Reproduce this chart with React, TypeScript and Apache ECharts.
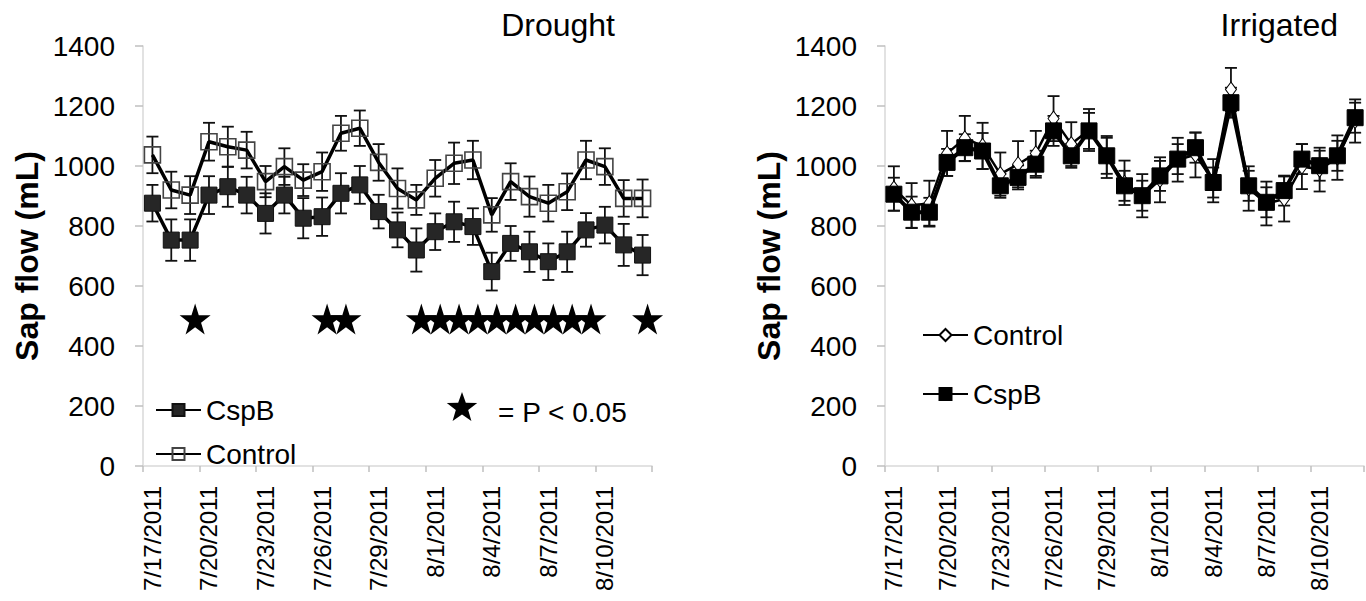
import React, { useEffect, useRef } from 'react';
import * as echarts from 'echarts';

const dates = [
  '7/17/2011', '7/18/2011', '7/19/2011', '7/20/2011', '7/21/2011', '7/22/2011', '7/23/2011',
  '7/24/2011', '7/25/2011', '7/26/2011', '7/27/2011', '7/28/2011', '7/29/2011', '7/30/2011',
  '7/31/2011', '8/1/2011', '8/2/2011', '8/3/2011', '8/4/2011', '8/5/2011', '8/6/2011',
  '8/7/2011', '8/8/2011', '8/9/2011', '8/10/2011', '8/11/2011', '8/12/2011',
];

const droughtCspB = [876, 753, 753, 903, 931, 903, 842, 903, 826, 831, 909, 937, 848, 787, 720, 781, 814, 798, 648, 742, 714, 681, 714, 787, 803, 737, 703];
const droughtCspBErr = [61, 69, 69, 63, 67, 61, 67, 61, 67, 64, 67, 63, 56, 58, 72, 61, 67, 61, 63, 58, 67, 61, 67, 56, 61, 70, 67];
const droughtControl = [1037, 920, 903, 1081, 1064, 1053, 948, 998, 953, 981, 1109, 1126, 1012, 925, 887, 959, 1009, 1020, 837, 948, 898, 876, 914, 1020, 998, 892, 892];
const droughtControlErr = [61, 61, 63, 63, 67, 61, 52, 61, 53, 64, 58, 59, 61, 67, 50, 61, 69, 64, 56, 61, 67, 61, 61, 64, 61, 61, 63];

const irrigatedControl = [925, 868, 876, 1042, 1092, 1067, 973, 1006, 1042, 1158, 1073, 1120, 1030, 944, 901, 954, 1021, 1037, 951, 1255, 925, 875, 890, 998, 988, 1028, 1150];
const irrigatedControlErr = [74, 75, 75, 75, 75, 77, 72, 77, 75, 75, 73, 70, 70, 74, 72, 75, 73, 75, 72, 72, 74, 73, 75, 75, 73, 74, 72];
const irrigatedCspB = [906, 846, 846, 1012, 1061, 1050, 934, 962, 1006, 1117, 1034, 1117, 1034, 934, 901, 967, 1023, 1061, 945, 1211, 934, 879, 918, 1023, 1001, 1034, 1161];
const irrigatedCspBErr = [55, 52, 48, 45, 45, 60, 40, 40, 45, 50, 40, 60, 60, 50, 50, 50, 50, 50, 50, 50, 50, 50, 50, 50, 50, 50, 50];

const significantDays = ['7/19/2011', '7/26/2011', '7/27/2011', '7/31/2011', '8/1/2011', '8/2/2011', '8/3/2011', '8/4/2011', '8/5/2011', '8/6/2011', '8/7/2011', '8/8/2011', '8/9/2011', '8/12/2011'];
const starLevel = 490;

const yTicks = { min: 0, max: 1400, interval: 200 };

const FONT = '"Liberation Sans", Arial, sans-serif';
const STAR_PATH = 'path://M50,0 L61.2,34.5 L97.6,34.5 L68.2,55.9 L79.4,90.5 L50,69.1 L20.6,90.5 L31.8,55.9 L2.4,34.5 L38.8,34.5 Z';

function starPoints(cx: number, cy: number, ro: number, ri: number) {
  const pts: number[][] = [];
  for (let k = 0; k < 10; k++) {
    const r = k % 2 === 0 ? ro : ri;
    const a = -Math.PI / 2 + (k * Math.PI) / 5;
    pts.push([cx + r * Math.cos(a), cy + r * Math.sin(a)]);
  }
  return pts;
}

function errorSeries(values: number[], errs: number[], axisIndex: number, z: number) {
  return {
    type: 'custom',
    xAxisIndex: axisIndex,
    yAxisIndex: axisIndex,
    silent: true,
    z,
    encode: { x: 0, y: 1 },
    data: values.map((v, i) => [i, v, errs[i]]),
    renderItem: (params: any, api: any) => {
      const i = api.value(0);
      const v = api.value(1);
      const e = api.value(2);
      const top = api.coord([i, v + e]);
      const bot = api.coord([i, v - e]);
      const w = 6;
      const style = { stroke: '#111', lineWidth: 1.8 };
      return {
        type: 'group',
        children: [
          { type: 'line', shape: { x1: top[0], y1: top[1], x2: bot[0], y2: bot[1] }, style },
          { type: 'line', shape: { x1: top[0] - w, y1: top[1], x2: top[0] + w, y2: top[1] }, style },
          { type: 'line', shape: { x1: bot[0] - w, y1: bot[1], x2: bot[0] + w, y2: bot[1] }, style },
        ],
      };
    },
  };
}

function xAxisDef(gridIndex: number) {
  return {
    type: 'category',
    gridIndex,
    data: dates,
    boundaryGap: true,
    axisLine: { show: true, lineStyle: { color: '#d9d9d9', width: 1.5 } },
    axisTick: { show: true, interval: 2, length: 6, alignWithLabel: false, lineStyle: { color: '#bfbfbf', width: 1.5 } },
    axisLabel: { interval: 2, rotate: 90, fontSize: 24, color: '#000', margin: 20, fontFamily: FONT },
    splitLine: { show: false },
  };
}

function yAxisDef(gridIndex: number) {
  return {
    type: 'value',
    gridIndex,
    min: yTicks.min,
    max: yTicks.max,
    interval: yTicks.interval,
    name: 'Sap flow (mL)',
    nameLocation: 'middle',
    nameGap: 100,
    nameTextStyle: { fontSize: 32, fontWeight: 'bold', color: '#000', fontFamily: FONT },
    axisLine: { show: true, lineStyle: { color: '#d9d9d9', width: 1.5 } },
    axisTick: { show: true, length: 8, lineStyle: { color: '#bfbfbf', width: 1.5 } },
    axisLabel: { fontSize: 28, color: '#000', margin: 28, fontFamily: FONT, formatter: (v: number) => String(v) },
    splitLine: { show: false },
  };
}

export default function App() {
  const ref = useRef<HTMLDivElement>(null);

  useEffect(() => {
    if (!ref.current) return;
    const chart = echarts.init(ref.current, undefined, { renderer: 'svg' });
    const option: any = {
      animation: false,
      backgroundColor: '#fff',
      textStyle: { fontFamily: FONT },
      grid: [
        { left: 143, top: 46, width: 509, height: 420 },
        { left: 885, top: 46, width: 479, height: 420 },
      ],
      xAxis: [xAxisDef(0), xAxisDef(1)],
      yAxis: [yAxisDef(0), yAxisDef(1)],
      legend: [
        {
          left: 150,
          top: 391,
          orient: 'vertical',
          itemWidth: 45,
          itemHeight: 15,
          itemGap: 16,
          selectedMode: false,
          data: ['Drought CspB', 'Drought Control'],
          formatter: (n: string) => n.replace('Drought ', ''),
          textStyle: { fontSize: 28, color: '#000', fontFamily: FONT },
        },
        {
          left: 917,
          top: 316,
          orient: 'vertical',
          itemWidth: 45,
          itemHeight: 15,
          itemGap: 31,
          selectedMode: false,
          data: ['Irrigated Control', 'Irrigated CspB'],
          formatter: (n: string) => n.replace('Irrigated ', ''),
          textStyle: { fontSize: 28, color: '#000', fontFamily: FONT },
        },
      ],
      graphic: [
        { type: 'text', right: 751, top: 9, style: { text: 'Drought', fontSize: 32, fill: '#000', fontFamily: FONT } },
        { type: 'text', right: 28, top: 9, style: { text: 'Irrigated', fontSize: 32, fill: '#000', fontFamily: FONT } },
        { type: 'polygon', shape: { points: starPoints(462, 408, 16, 6.5) }, style: { fill: '#000' } },
        { type: 'text', left: 498, top: 398, style: { text: '= P < 0.05', fontSize: 28, fill: '#000', fontFamily: FONT } },
      ],
      series: [
        errorSeries(droughtControl, droughtControlErr, 0, 1),
        errorSeries(droughtCspB, droughtCspBErr, 0, 1),
        {
          name: 'Drought Control',
          type: 'line',
          xAxisIndex: 0,
          yAxisIndex: 0,
          data: droughtControl,
          symbol: 'rect',
          symbolSize: 16,
          showAllSymbol: true,
          z: 2,
          lineStyle: { color: '#000', width: 3.5 },
          itemStyle: { color: 'rgba(255,255,255,0)', borderColor: '#444', borderWidth: 1.6 },
        },
        {
          name: 'Drought CspB',
          type: 'line',
          xAxisIndex: 0,
          yAxisIndex: 0,
          data: droughtCspB,
          symbol: 'rect',
          symbolSize: 16,
          showAllSymbol: true,
          z: 3,
          lineStyle: { color: '#000', width: 3.5 },
          itemStyle: { color: '#262626', borderColor: '#111', borderWidth: 1 },
        },
        {
          name: 'stars',
          type: 'scatter',
          xAxisIndex: 0,
          yAxisIndex: 0,
          data: significantDays.map((d) => [d, starLevel]),
          symbol: STAR_PATH,
          symbolSize: 31,
          symbolOffset: [5, 0],
          itemStyle: { color: '#000', opacity: 1 },
          silent: true,
          z: 3,
        },
        errorSeries(irrigatedControl, irrigatedControlErr, 1, 1),
        errorSeries(irrigatedCspB, irrigatedCspBErr, 1, 1),
        {
          name: 'Irrigated Control',
          type: 'line',
          xAxisIndex: 1,
          yAxisIndex: 1,
          data: irrigatedControl,
          symbol: 'diamond',
          symbolSize: [11, 15],
          showAllSymbol: true,
          z: 2,
          lineStyle: { color: '#000', width: 2.5 },
          itemStyle: { color: '#fff', borderColor: '#000', borderWidth: 1 },
        },
        {
          name: 'Irrigated CspB',
          type: 'line',
          xAxisIndex: 1,
          yAxisIndex: 1,
          data: irrigatedCspB,
          symbol: 'rect',
          symbolSize: 16,
          showAllSymbol: true,
          z: 3,
          lineStyle: { color: '#000', width: 4 },
          itemStyle: { color: '#000', borderColor: '#000', borderWidth: 1 },
        },
      ],
    };
    chart.setOption(option);
    return () => chart.dispose();
  }, []);

  return (
    <div
      ref={ref}
      style={{ position: 'fixed', left: 0, top: 0, width: 1366, height: 601, background: '#fff' }}
    />
  );
}
